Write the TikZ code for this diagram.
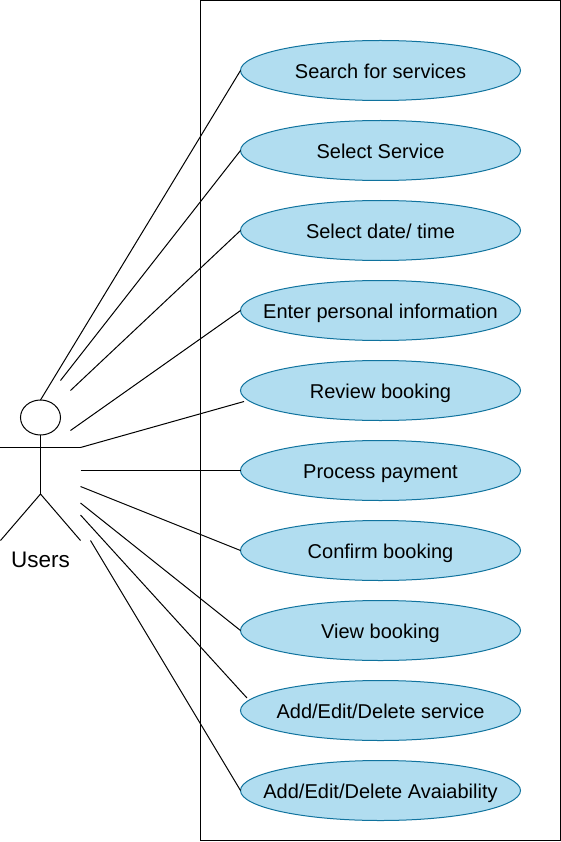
\documentclass[tikz,border=0pt]{standalone}
\usepackage{fontspec}
\setmainfont{Liberation Sans}
\usetikzlibrary{shapes,arrows}
\usetikzlibrary{positioning}
\definecolor{casefill}{HTML}{B1DDF0}
\definecolor{caseline}{HTML}{10739E}
\tikzstyle{usecase} = [draw=caseline, ellipse, fill=casefill, minimum width=280pt,
minimum height=60pt, inner ysep=0pt, inner xsep=-30pt, outer sep=0pt, text height=19pt,
text depth=3pt, font=\fontsize{20}{24}\selectfont]
\tikzstyle{line} = [draw, line width=1pt]

\begin{document}
\begin{tikzpicture}[x=1pt, y=-1pt, line width=1pt, node distance=20pt]
    \useasboundingbox (0,0) rectangle (561,842);
    \node [draw, rectangle, minimum width=360pt, minimum height=840pt, anchor=north west,
        inner sep=0pt, outer sep=0pt] (System) at (200.5,0.5) {};
    \node [usecase] (Search) at (380.5,70.5) {Search for services};
    \node [usecase, below=of Search] (Select) {Select Service};
    \node [usecase, below=of Select] (Date) {Select date/ time};
    \node [usecase, below=of Date] (Personal) {Enter personal information};
    \node [usecase, below=of Personal] (Review) {Review booking};
    \node [usecase, below=of Review] (Payment) {Process payment};
    \node [usecase, below=of Payment] (Confirm) {Confirm booking};
    \node [usecase, below=of Confirm] (View) {View booking};
    \node [usecase, below=of View] (Service) {Add/Edit/Delete service};
    \node [usecase, below=of Service] (Avail) {Add/Edit/Delete Avaiability};
    %% Actor
    \node [draw, ellipse, minimum width=40pt, minimum height=35pt, inner sep=0pt, outer sep=0pt] (Head) at (40.5,417.5) {};
    \coordinate (HandL) at (0,447.5);
    \coordinate (HandR) at (80.5,447.5);
    \coordinate (Hip) at (40.5,494);
    \coordinate (FootL) at (0.5,540.5);
    \coordinate (FootR) at (80.5,540.5);
    \node [font=\fontsize{22.5}{26}\selectfont] (Users) at (40.5,560) {Users};
    \path [line] (Head.south) to (Hip);
    \path [line] (HandL) to (HandR);
    \path [line] (FootL) to (Hip) to (FootR);
    %% Free ends
    \coordinate (u2) at (60.5,380.5);
    \coordinate (u3) at (70.5,390.5);
    \coordinate (u4) at (70.5,430.5);
    \coordinate (u6) at (80.5,470.5);
    \coordinate (u7) at (80.5,486.5);
    \coordinate (u8) at (80.5,503);
    \coordinate (u9) at (80.5,515);
    \coordinate (u10) at (90.5,540.5);
    \coordinate (e5) at (244,401.5);
    \coordinate (e9) at (247,698);
    %% Associations
    \path [line] (Head.north) to (Search.west);
    \path [line] (u2) to (Select.west);
    \path [line] (u3) to (Date.west);
    \path [line] (u4) to (Personal.west);
    \path [line] (HandR) to (e5);
    \path [line] (u6) to (Payment.west);
    \path [line] (u7) to (Confirm.west);
    \path [line] (u8) to (View.west);
    \path [line] (u9) to (e9);
    \path [line] (u10) to (Avail.west);
\end{tikzpicture}
\end{document}
